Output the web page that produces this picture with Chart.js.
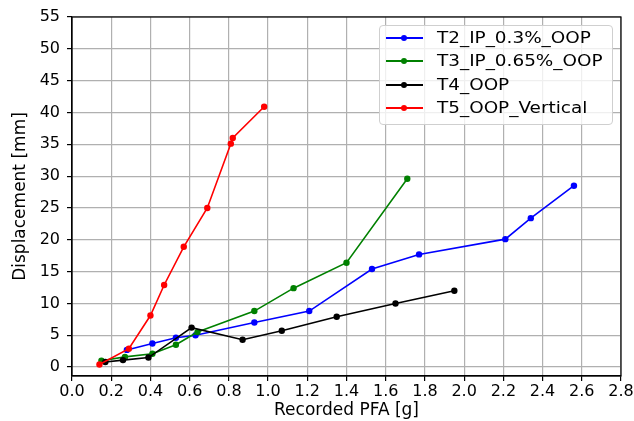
<!DOCTYPE html>
<html>
<head>
<meta charset="utf-8">
<script src="https://cdn.jsdelivr.net/npm/chart.js@4"></script>
<style>
  html, body { margin: 0; padding: 0; background: #fff; }
  #wrap { position: relative; width: 634px; height: 421px; }
  #legend {
    position: absolute; left: 379px; top: 25px; width: 232px; height: 98px;
    border: 1px solid #cfcfcf; border-radius: 4px; background: rgba(255,255,255,0.8);
    font-family: "DejaVu Sans", sans-serif; font-size: 16px; color: #000;
  }
  .row { position: absolute; left: 0; width: 100%; height: 24px; }
  .ln { position: absolute; left: 6px; top: 11px; width: 37px; height: 2px; }
  .dot { position: absolute; left: 21px; top: 9px; width: 6px; height: 6px; border-radius: 50%; }
  .tx { position: absolute; left: 57px; top: 0; line-height: 24px; white-space: nowrap;
        transform: scaleX(1.15); transform-origin: 0 50%; }
</style>
</head>
<body>
<div id="wrap">
  <canvas id="c" width="634" height="421"></canvas>
  <div id="legend"></div>
</div>
<script>
// ---- data ----
const seriesNames = ['T2_IP_0.3%_OOP', 'T3_IP_0.65%_OOP', 'T4_OOP', 'T5_OOP_Vertical'];

const xT2 = [0.28, 0.41, 0.53, 0.63, 0.93, 1.21, 1.53, 1.77, 2.21, 2.34, 2.56];
const yT2 = [2.7, 3.7, 4.6, 5.0, 7.0, 8.8, 15.4, 17.7, 20.1, 23.4, 28.5];

const xT3 = [0.15, 0.27, 0.41, 0.53, 0.64, 0.93, 1.13, 1.40, 1.71];
const yT3 = [1.0, 1.6, 2.1, 3.5, 5.5, 8.8, 12.4, 16.4, 29.6];

const xT4 = [0.17, 0.26, 0.39, 0.61, 0.87, 1.07, 1.35, 1.65, 1.95];
const yT4 = [0.8, 1.1, 1.5, 6.2, 4.3, 5.7, 7.9, 10.0, 12.0];

const xT5 = [0.14, 0.29, 0.40, 0.47, 0.57, 0.69, 0.81, 0.82, 0.98];
const yT5 = [0.4, 2.9, 8.1, 12.9, 18.9, 25.0, 35.1, 36.0, 40.9];

const xTicks = [0.0, 0.2, 0.4, 0.6, 0.8, 1.0, 1.2, 1.4, 1.6, 1.8, 2.0, 2.2, 2.4, 2.6, 2.8];
const yTicks = [0, 5, 10, 15, 20, 25, 30, 35, 40, 45, 50, 55];

const xTitle = 'Recorded PFA [g]';
const yTitle = 'Displacement [mm]';

// ---- styles ----
const colors = ['#0000ff', '#008000', '#000000', '#ff0000'];
const FONT = { family: 'DejaVu Sans', size: 16, lineHeight: 1.2 };
const TFONT = { family: 'DejaVu Sans', size: 17, lineHeight: 1.2 };

const xs = [xT2, xT3, xT4, xT5];
const ys = [yT2, yT3, yT4, yT5];

const datasets = seriesNames.map((name, i) => ({
  label: name,
  data: xs[i].map((x, k) => ({ x: x, y: ys[i][k] })),
  borderColor: colors[i],
  backgroundColor: colors[i],
  borderWidth: 1.6,
  pointRadius: 3.2,
  pointHoverRadius: 3.2,
  pointBorderWidth: 0,
  showLine: true,
  tension: 0,
  order: seriesNames.length - i
}));

const frame = {
  id: 'frame',
  afterDraw(chart) {
    const a = chart.chartArea, ctx = chart.ctx;
    ctx.save();
    ctx.strokeStyle = '#000';
    ctx.lineWidth = 1.2;
    ctx.strokeRect(a.left, a.top, a.right - a.left, a.bottom - a.top);
    ctx.restore();
  }
};

new Chart(document.getElementById('c'), {
  type: 'scatter',
  data: { datasets: datasets },
  options: {
    responsive: false,
    animation: false,
    devicePixelRatio: 1,
    layout: { padding: { top: 17, right: 13, left: 0, bottom: 0 } },
    plugins: { legend: { display: false }, tooltip: { enabled: false } },
    scales: {
      x: {
        type: 'linear',
        min: 0, max: 2.8,
        afterBuildTicks: s => { s.ticks = xTicks.map(v => ({ value: v })); },
        afterFit: s => { s.height = 45; s.paddingLeft = 0; s.paddingRight = 0; },
        ticks: {
          color: '#000', font: FONT, padding: 1, maxRotation: 0, autoSkip: false,
          callback: v => Number(v).toFixed(1)
        },
        grid: { color: '#b0b0b0', lineWidth: 1.2, tickLength: 5, tickColor: '#000', tickWidth: 1.2 },
        border: { color: '#000', width: 1.2 },
        title: { display: true, text: xTitle, color: '#000', font: TFONT, padding: { top: 0, bottom: 0 } }
      },
      y: {
        type: 'linear',
        min: -1.4, max: 55,
        afterBuildTicks: s => { s.ticks = yTicks.map(v => ({ value: v })); },
        afterFit: s => { s.width = 72; s.paddingTop = 0; s.paddingBottom = 0; },
        ticks: { color: '#000', font: FONT, padding: 7, autoSkip: false, callback: v => String(v) },
        grid: { color: '#b0b0b0', lineWidth: 1.2, tickLength: 5, tickColor: '#000', tickWidth: 1.2 },
        border: { color: '#000', width: 1.2 },
        title: { display: true, text: yTitle, color: '#000', font: TFONT, padding: { top: 10, bottom: 0 } }
      }
    }
  },
  plugins: [frame]
});

// ---- legend (real text) ----
const leg = document.getElementById('legend');
const rowTops = [0, 23, 47, 70];
seriesNames.forEach((name, i) => {
  const row = document.createElement('div');
  row.className = 'row';
  row.style.top = rowTops[i] + 'px';
  const ln = document.createElement('div'); ln.className = 'ln'; ln.style.background = colors[i];
  const dot = document.createElement('div'); dot.className = 'dot'; dot.style.background = colors[i];
  const tx = document.createElement('div'); tx.className = 'tx'; tx.textContent = name;
  row.appendChild(ln); row.appendChild(dot); row.appendChild(tx);
  leg.appendChild(row);
});
</script>
</body>
</html>
